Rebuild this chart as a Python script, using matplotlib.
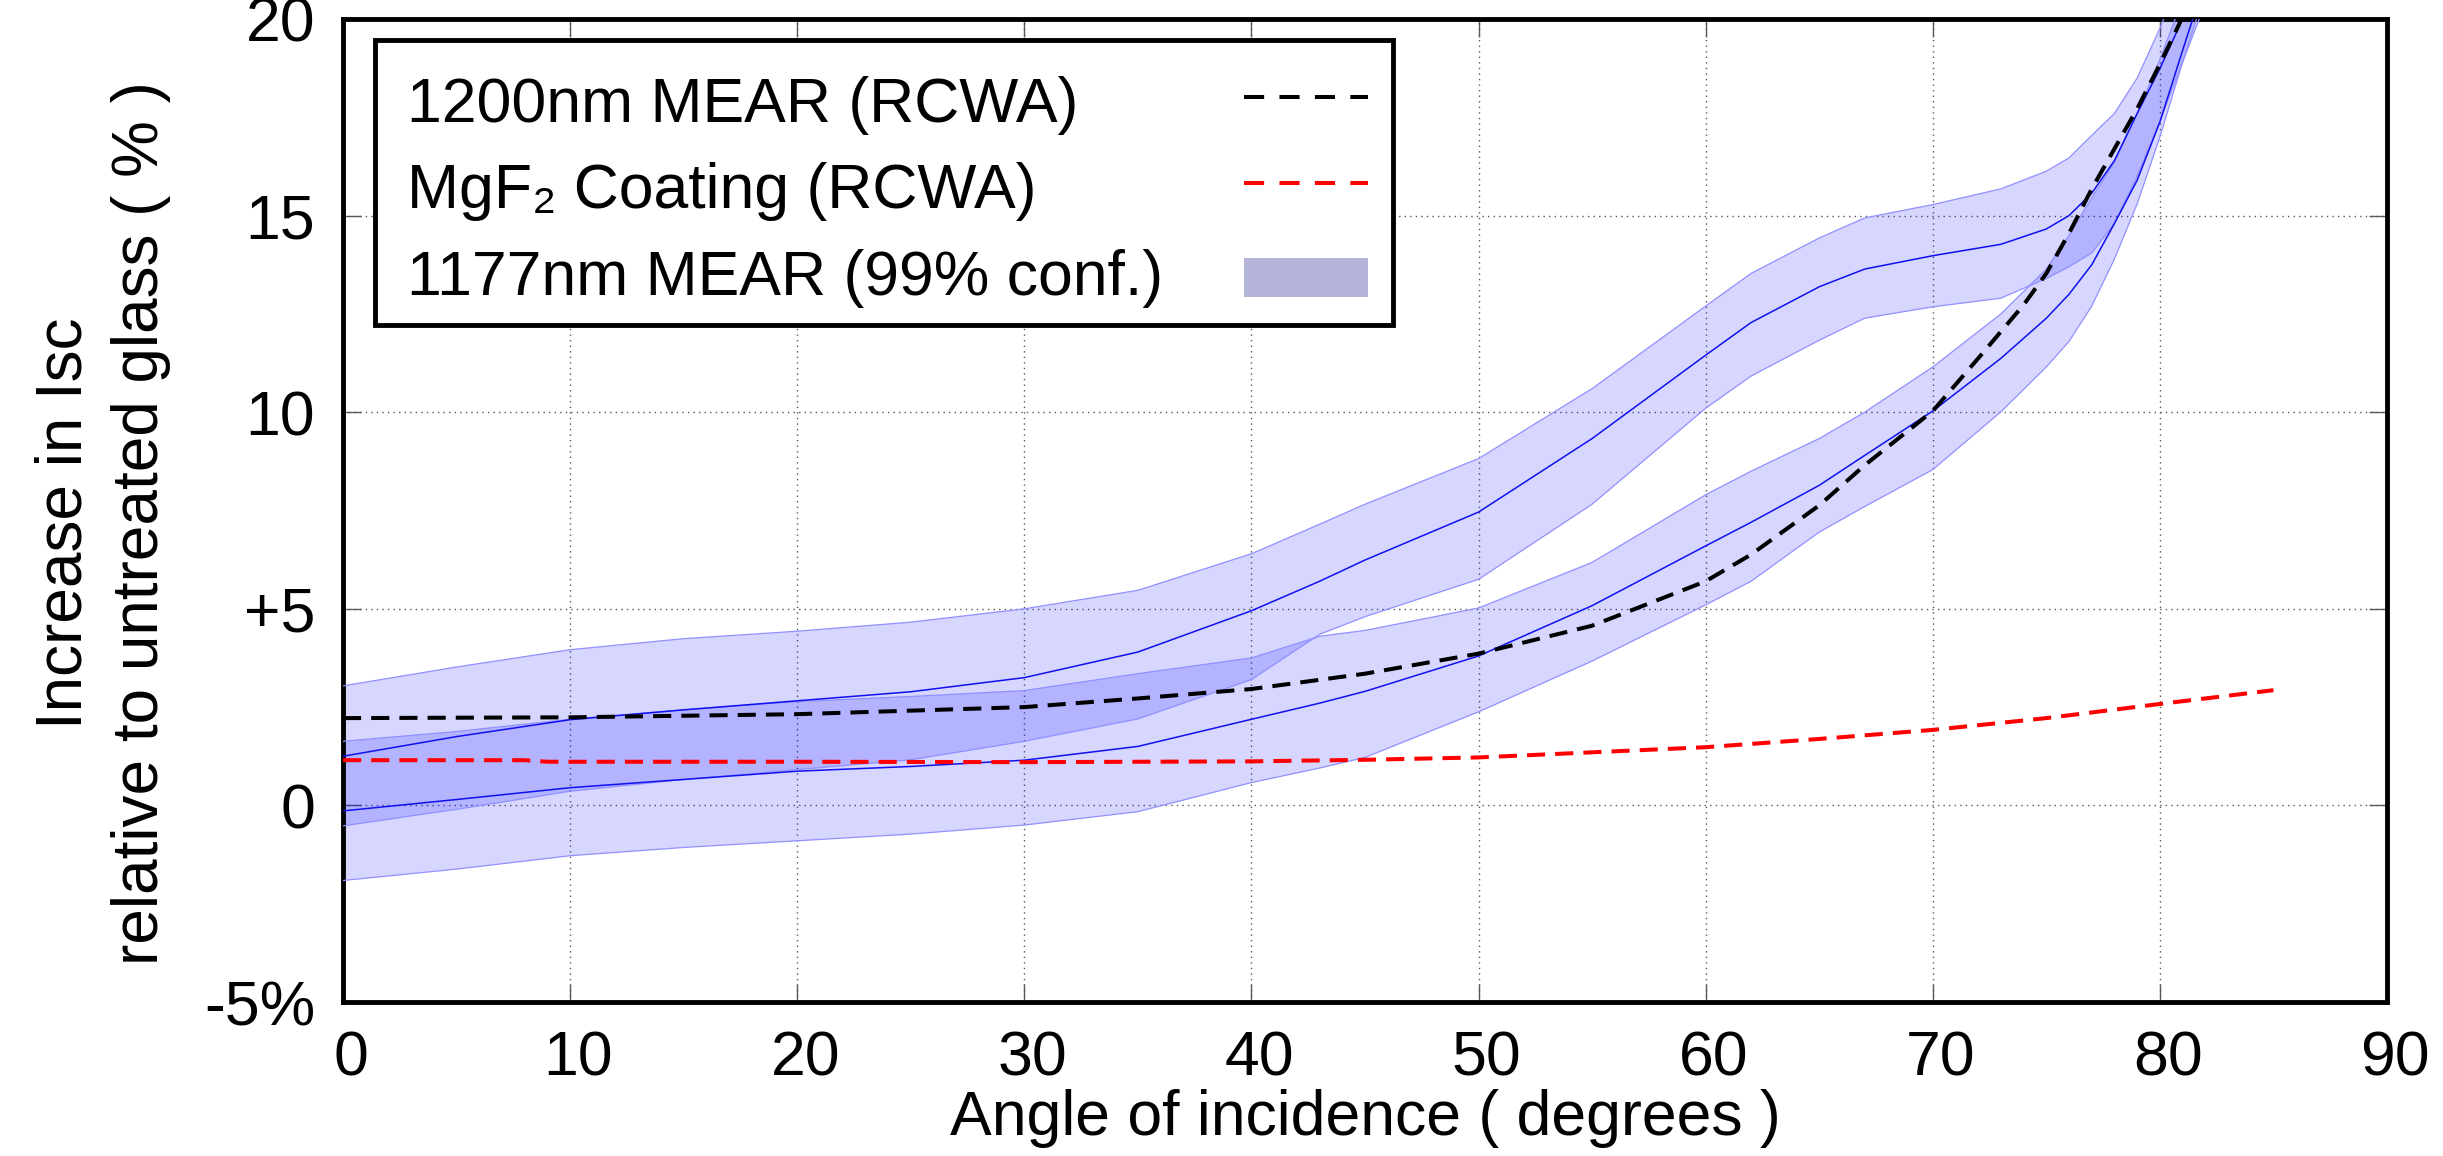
import matplotlib
matplotlib.use("Agg")
import matplotlib.pyplot as plt
import matplotlib.transforms as mtransforms
from matplotlib.patches import Rectangle

# angle grid shared by both 1177nm MEAR bands
x_band = [0, 5, 10, 15, 20, 25, 30, 35, 40, 43, 45, 50, 55, 60, 62, 65, 67,
          70, 73, 75, 76, 77, 78, 79, 80, 81, 82]

# band A (upper curve)
mid_a = [1.25, 1.75, 2.18, 2.43, 2.66, 2.89, 3.25, 3.9, 4.95, 5.7, 6.24, 7.46,
         9.33, 11.45, 12.28, 13.19, 13.64, 13.98, 14.27, 14.66, 15.0, 15.57,
         16.4, 17.6, 18.74, 20.0, 21.3]
hi_a = [3.04, 3.52, 3.96, 4.24, 4.43, 4.66, 5.0, 5.47, 6.4, 7.15, 7.66, 8.82,
        10.6, 12.7, 13.53, 14.43, 14.94, 15.28, 15.68, 16.13, 16.47, 17.04,
        17.6, 18.5, 19.76, 21.2, 22.5]
lo_a = [-0.52, -0.1, 0.36, 0.66, 0.91, 1.16, 1.63, 2.2, 3.2, 4.35, 4.8, 5.75,
        7.66, 10.1, 10.92, 11.83, 12.39, 12.68, 12.9, 13.4, 13.7, 14.05, 14.8,
        16.0, 17.4, 18.9, 20.4]

# band B (lower curve)
mid_b = [-0.14, 0.15, 0.45, 0.66, 0.87, 0.99, 1.15, 1.5, 2.19, 2.6, 2.9, 3.8,
         5.08, 6.6, 7.2, 8.14, 8.9, 10.03, 11.37, 12.39, 13.0, 13.75, 14.8,
         15.9, 17.38, 19.2, 21.0]
hi_b = [1.63, 1.88, 2.19, 2.43, 2.64, 2.77, 2.92, 3.35, 3.75, 4.3, 4.45, 5.02,
        6.18, 7.9, 8.5, 9.33, 10.0, 11.15, 12.5, 13.64, 14.5, 15.45, 16.36,
        17.6, 18.97, 20.5, 22.0]
lo_b = [-1.91, -1.62, -1.28, -1.07, -0.90, -0.73, -0.5, -0.16, 0.58, 0.95, 1.22,
        2.38, 3.67, 5.1, 5.7, 6.95, 7.6, 8.54, 10.01, 11.15, 11.8, 12.7, 13.9,
        15.3, 17.0, 18.9, 20.7]

# 1200nm MEAR (RCWA)
x_mear = [0, 10, 20, 30, 35, 40, 45, 50, 55, 60, 62, 65, 67, 70, 72, 74, 75,
          76, 77, 78, 79, 80, 81, 82]
y_mear = [2.22, 2.24, 2.32, 2.5, 2.72, 2.96, 3.35, 3.86, 4.57, 5.7, 6.38, 7.63,
          8.65, 10.03, 11.37, 12.73, 13.53, 14.55, 15.68, 16.7, 17.72, 18.85,
          20.05, 21.3]

# MgF2 coating (RCWA)
x_mgf = [0, 8, 9, 20, 30, 40, 45, 50, 55, 60, 65, 70, 75, 80, 85]
y_mgf = [1.15, 1.15, 1.11, 1.11, 1.10, 1.12, 1.16, 1.22, 1.35, 1.48, 1.69,
         1.92, 2.22, 2.58, 2.93]

x_ticks = [0, 10, 20, 30, 40, 50, 60, 70, 80, 90]
y_ticks = [-5, 0, 5, 10, 15, 20]
y_ticklabels = ["-5%", "0", "+5", "10", "15", "20"]
legend_labels = ["1200nm MEAR (RCWA)", "MgF\u2082 Coating (RCWA)",
                 "1177nm MEAR (99% conf.)"]

plt.rcParams['font.family'] = ['Liberation Sans', 'DejaVu Sans']

fig = plt.figure(figsize=(24.43, 11.56), dpi=100)
ax = fig.add_axes([343 / 2443, 1 - 1002 / 1156, 2044 / 2443, 983 / 1156])

fill_col = (0, 0, 1, 0.16)
edge_col = "#9090ff"
for lo, mid, hi in [(lo_a, mid_a, hi_a), (lo_b, mid_b, hi_b)]:
    ax.fill_between(x_band, lo, hi, facecolor=fill_col, linewidth=0, zorder=2)
    ax.plot(x_band, lo, color=edge_col, lw=0.9, zorder=3)
    ax.plot(x_band, hi, color=edge_col, lw=0.9, zorder=3)
    ax.plot(x_band, mid, color="#1010f0", lw=1.1, zorder=4)

ax.plot(x_mgf, y_mgf, color="red", lw=2.9, dashes=(4.5, 2.5), zorder=5)
ax.plot(x_mear, y_mear, color="black", lw=2.9, dashes=(4.5, 2.5), zorder=6)

ax.set_xlim(0, 90)
ax.set_ylim(-5, 20)
ax.set_xticks(x_ticks)
ax.set_yticks(y_ticks)
ax.set_yticklabels(y_ticklabels)
ax.tick_params(direction="in", length=13, width=1, color="0.35",
               top=True, right=True, labelsize=45, pad=20)
offset = mtransforms.ScaledTranslation(8 / 100, 0, fig.dpi_scale_trans)
for lab in ax.get_xticklabels():
    lab.set_transform(lab.get_transform() + offset)
ax.grid(True, color="0.35", linestyle=(0, (1, 3)), lw=1)
for sp in ax.spines.values():
    sp.set_linewidth(3.5)

# legend box drawn by hand: text left-aligned, samples on the right
tr = ax.transAxes
ax.add_patch(Rectangle((0.0157, 0.6887), 0.4980, 0.2900, transform=tr,
                       facecolor="white", edgecolor="black", lw=3.5,
                       zorder=10))
for lab, yb in zip(legend_labels, [0.8952, 0.8077, 0.7192]):
    ax.text(0.0313, yb, lab, transform=tr, fontsize=45, va="baseline",
            ha="left", zorder=11)
ax.plot([0.4408, 0.5015], [0.9207, 0.9207], transform=tr, color="black",
        lw=2.9, dashes=(5, 3.8), zorder=11)
ax.plot([0.4408, 0.5015], [0.8332, 0.8332], transform=tr, color="red",
        lw=2.9, dashes=(5, 3.8), zorder=11)
ax.add_patch(Rectangle((0.4408, 0.7172), 0.0607, 0.0397, transform=tr,
                       facecolor=(180 / 255, 180 / 255, 216 / 255),
                       edgecolor="none", zorder=11))

fig.text(103 / 2443, 1 - 523 / 1156,
         "Increase in Isc\nrelative to untreated glass ( % )",
         rotation=90, ha="center", va="center", fontsize=46, linespacing=1.35)
fig.text(1365 / 2443, 1 - 1119 / 1156, "Angle of incidence ( degrees )",
         ha="center", va="center", fontsize=45)

fig.savefig("out.png", dpi=100)
